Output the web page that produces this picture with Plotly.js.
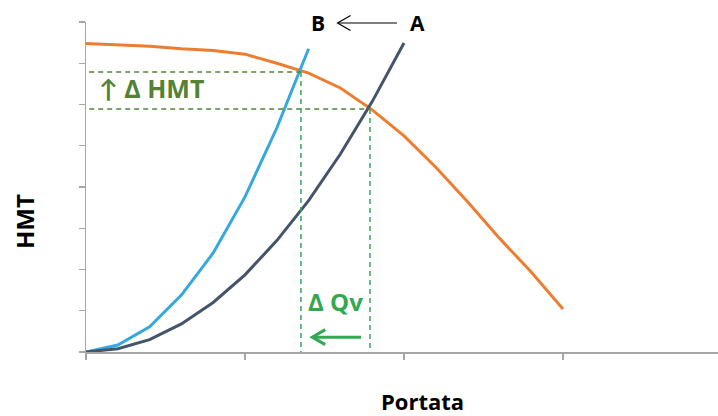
<!DOCTYPE html>
<html>
<head>
<meta charset="utf-8">
<script src="https://cdn.plot.ly/plotly-3.0.1.min.js"></script>
<style>html,body{margin:0;padding:0;background:#fff;}#chart{width:718px;height:416px;}</style>
</head>
<body>
<div id="chart"></div>
<script>
// Portata (flow) sample positions
const pumpQ   = [0, 0.2, 0.4, 0.6, 0.8, 1.0, 1.2, 1.4, 1.6, 1.8, 2.0, 2.2, 2.4, 2.6, 2.8, 3.0];
// Pump curve HMT (orange)
const pumpH   = [7.48, 7.44, 7.41, 7.35, 7.31, 7.22, 7.00, 6.76, 6.40, 5.87, 5.24, 4.48, 3.64, 2.76, 1.94, 1.04];
// System curve B (light blue)
const sysBQ   = [0, 0.2, 0.4, 0.6, 0.8, 1.0, 1.2, 1.4];
const sysBH   = [0, 0.17, 0.61, 1.38, 2.40, 3.76, 5.43, 7.35];
// System curve A (dark)
const sysAQ   = [0, 0.2, 0.4, 0.6, 0.8, 1.0, 1.2, 1.4, 1.6, 1.8, 2.0];
const sysAH   = [0, 0.08, 0.30, 0.68, 1.20, 1.87, 2.70, 3.67, 4.80, 6.07, 7.49];
// Operating points [Q, H]: B (new) and A (old)
const opB = [1.352, 6.79];
const opA = [1.786, 5.89];
// Labels
const labelB = "B", labelA = "A";
const labelDH = "↑ Δ HMT", labelDQ = "Δ Qv";
const xTitle = "Portata", yTitle = "HMT";

const olive = "#548235", green = "#33A852";
const font = "'Open Sans', Lato, 'DejaVu Sans', sans-serif";

const traces = [
  {x: pumpQ, y: pumpH, mode: "lines", line: {color: "#ED7D31", width: 3}, hoverinfo: "skip"},
  {x: sysBQ, y: sysBH, mode: "lines", line: {color: "#35A8E0", width: 3}, hoverinfo: "skip"},
  {x: sysAQ, y: sysAH, mode: "lines", line: {color: "#44546A", width: 3}, hoverinfo: "skip"}
];

const dash = "5px,4px";
const chevron = "M 13,7.5 L 0,0 L 13,-7.5";
const shapes = [
  {type: "line", x0: 0.02, x1: opB[0], y0: opB[1], y1: opB[1], line: {color: olive, width: 1.5, dash: dash}},
  {type: "line", x0: 0.02, x1: opA[0], y0: opA[1], y1: opA[1], line: {color: olive, width: 1.5, dash: dash}},
  {type: "line", x0: opB[0], x1: opB[0], y0: opB[1], y1: 0, line: {color: green, width: 1.5, dash: dash}},
  {type: "line", x0: opA[0], x1: opA[0], y0: opA[1], y1: 0, line: {color: green, width: 1.5, dash: dash}},
  // Δ Qv arrow (A -> B, leftwards)
  {type: "line", x0: 1.73, x1: 1.425, y0: 0.36, y1: 0.36, line: {color: green, width: 3}},
  {type: "path", xsizemode: "pixel", ysizemode: "pixel", xanchor: 1.423, yanchor: 0.36, path: chevron, line: {color: green, width: 3}},
  // B <- A arrow (paper coordinates so it is not clipped at the top edge)
  {type: "line", xref: "paper", yref: "paper", x0: 0.492, x1: 0.399, y0: 0.997, y1: 0.997, line: {color: "#000", width: 1.2}},
  {type: "path", xref: "paper", yref: "paper", xsizemode: "pixel", ysizemode: "pixel", xanchor: 0.398, yanchor: 0.997, path: chevron, line: {color: "#000", width: 1.2}}
];

const annotations = [
  {x: 1.459, y: 7.98, text: "<b>" + labelB + "</b>", showarrow: false, font: {family: font, size: 21, color: "#000"}},
  {x: 2.088, y: 7.98, text: "<b>" + labelA + "</b>", showarrow: false, font: {family: font, size: 21, color: "#000"}},
  {x: 0.41, y: 6.4, text: "<b>" + labelDH + "</b>", showarrow: false, font: {family: font, size: 25, color: olive}},
  {x: 1.572, y: 1.22, text: "<b>" + labelDQ + "</b>", showarrow: false, font: {family: font, size: 24, color: green}},
  {xref: "paper", yref: "paper", x: 0.532, y: -0.147, xanchor: "center", yanchor: "middle", borderpad: 0, text: "<b>" + xTitle + "</b>", showarrow: false, font: {family: font, size: 22, color: "#000"}},
  {xref: "paper", yref: "paper", x: -0.0965, y: 0.394, xanchor: "center", yanchor: "middle", textangle: -90, text: "<b>" + yTitle + "</b>", showarrow: false, font: {family: font, size: 24, color: "#000"}}
];

const axisBase = {showgrid: false, zeroline: false, showline: true, linecolor: "#A6A6A6", linewidth: 1.5,
  ticks: "outside", ticklen: 6, tickcolor: "#A6A6A6", tickwidth: 1.3, showticklabels: false, dtick: 1, tick0: 0};

const layout = {
  width: 718, height: 416,
  margin: {l: 86, r: 0, t: 22, b: 64},
  paper_bgcolor: "#fff", plot_bgcolor: "#fff",
  showlegend: false,
  xaxis: Object.assign({}, axisBase, {range: [0, 3.975]}),
  yaxis: Object.assign({}, axisBase, {range: [0, 8]}),
  shapes: shapes,
  annotations: annotations
};

Plotly.newPlot("chart", traces, layout, {displayModeBar: false, staticPlot: true});
</script>
</body>
</html>
